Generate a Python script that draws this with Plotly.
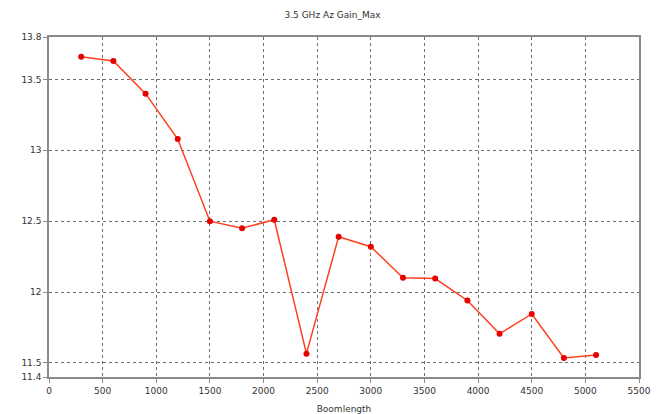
import plotly.graph_objects as go

boomlength = [300, 600, 900, 1200, 1500, 1800, 2100, 2400, 2700, 3000, 3300, 3600, 3900, 4200, 4500, 4800, 5100]
gain_max = [13.66, 13.63, 13.40, 13.08, 12.50, 12.45, 12.51, 11.565, 12.39, 12.32, 12.10, 12.095, 11.94, 11.705, 11.845, 11.535, 11.555]
y_ticks = [11.4, 11.5, 12, 12.5, 13, 13.5, 13.8]
y_tick_labels = ["11.4", "11.5", "12", "12.5", "13", "13.5", "13.8"]
x_ticks = list(range(0, 5501, 500))

font = dict(family="DejaVu Sans", size=9, color="#333333")

fig = go.Figure()
fig.add_trace(go.Scatter(
    x=boomlength, y=gain_max, mode="lines+markers",
    line=dict(color="#ff4020", width=1.5),
    marker=dict(color="#e60000", size=6),
    showlegend=False,
))

axis_common = dict(
    showline=True, linecolor="#8a8a8a", linewidth=1.5, mirror=True,
    showgrid=True, gridcolor="#6e6e6e", griddash="dot", gridwidth=1,
    ticks="outside", ticklen=4, tickcolor="#8a8a8a",
    zeroline=False, tickfont=font, automargin=False,
)

fig.update_layout(
    width=665, height=414,
    margin=dict(l=49, r=26, t=37, b=37),
    paper_bgcolor="white", plot_bgcolor="white",
    title=dict(text="3.5 GHz Az Gain_Max", x=0.5, xanchor="center",
               y=1 - 15 / 414, yanchor="middle", yref="container",
               font=dict(family="DejaVu Sans", size=9, color="#333333")),
    xaxis=dict(range=[0, 5500], tickvals=x_ticks, ticktext=[str(v) for v in x_ticks],
               title=dict(text="Boomlength", font=font, standoff=13), **axis_common),
    yaxis=dict(range=[11.4, 13.8], tickvals=y_ticks, ticktext=y_tick_labels, **axis_common),
)

fig.write_html("out.html")
